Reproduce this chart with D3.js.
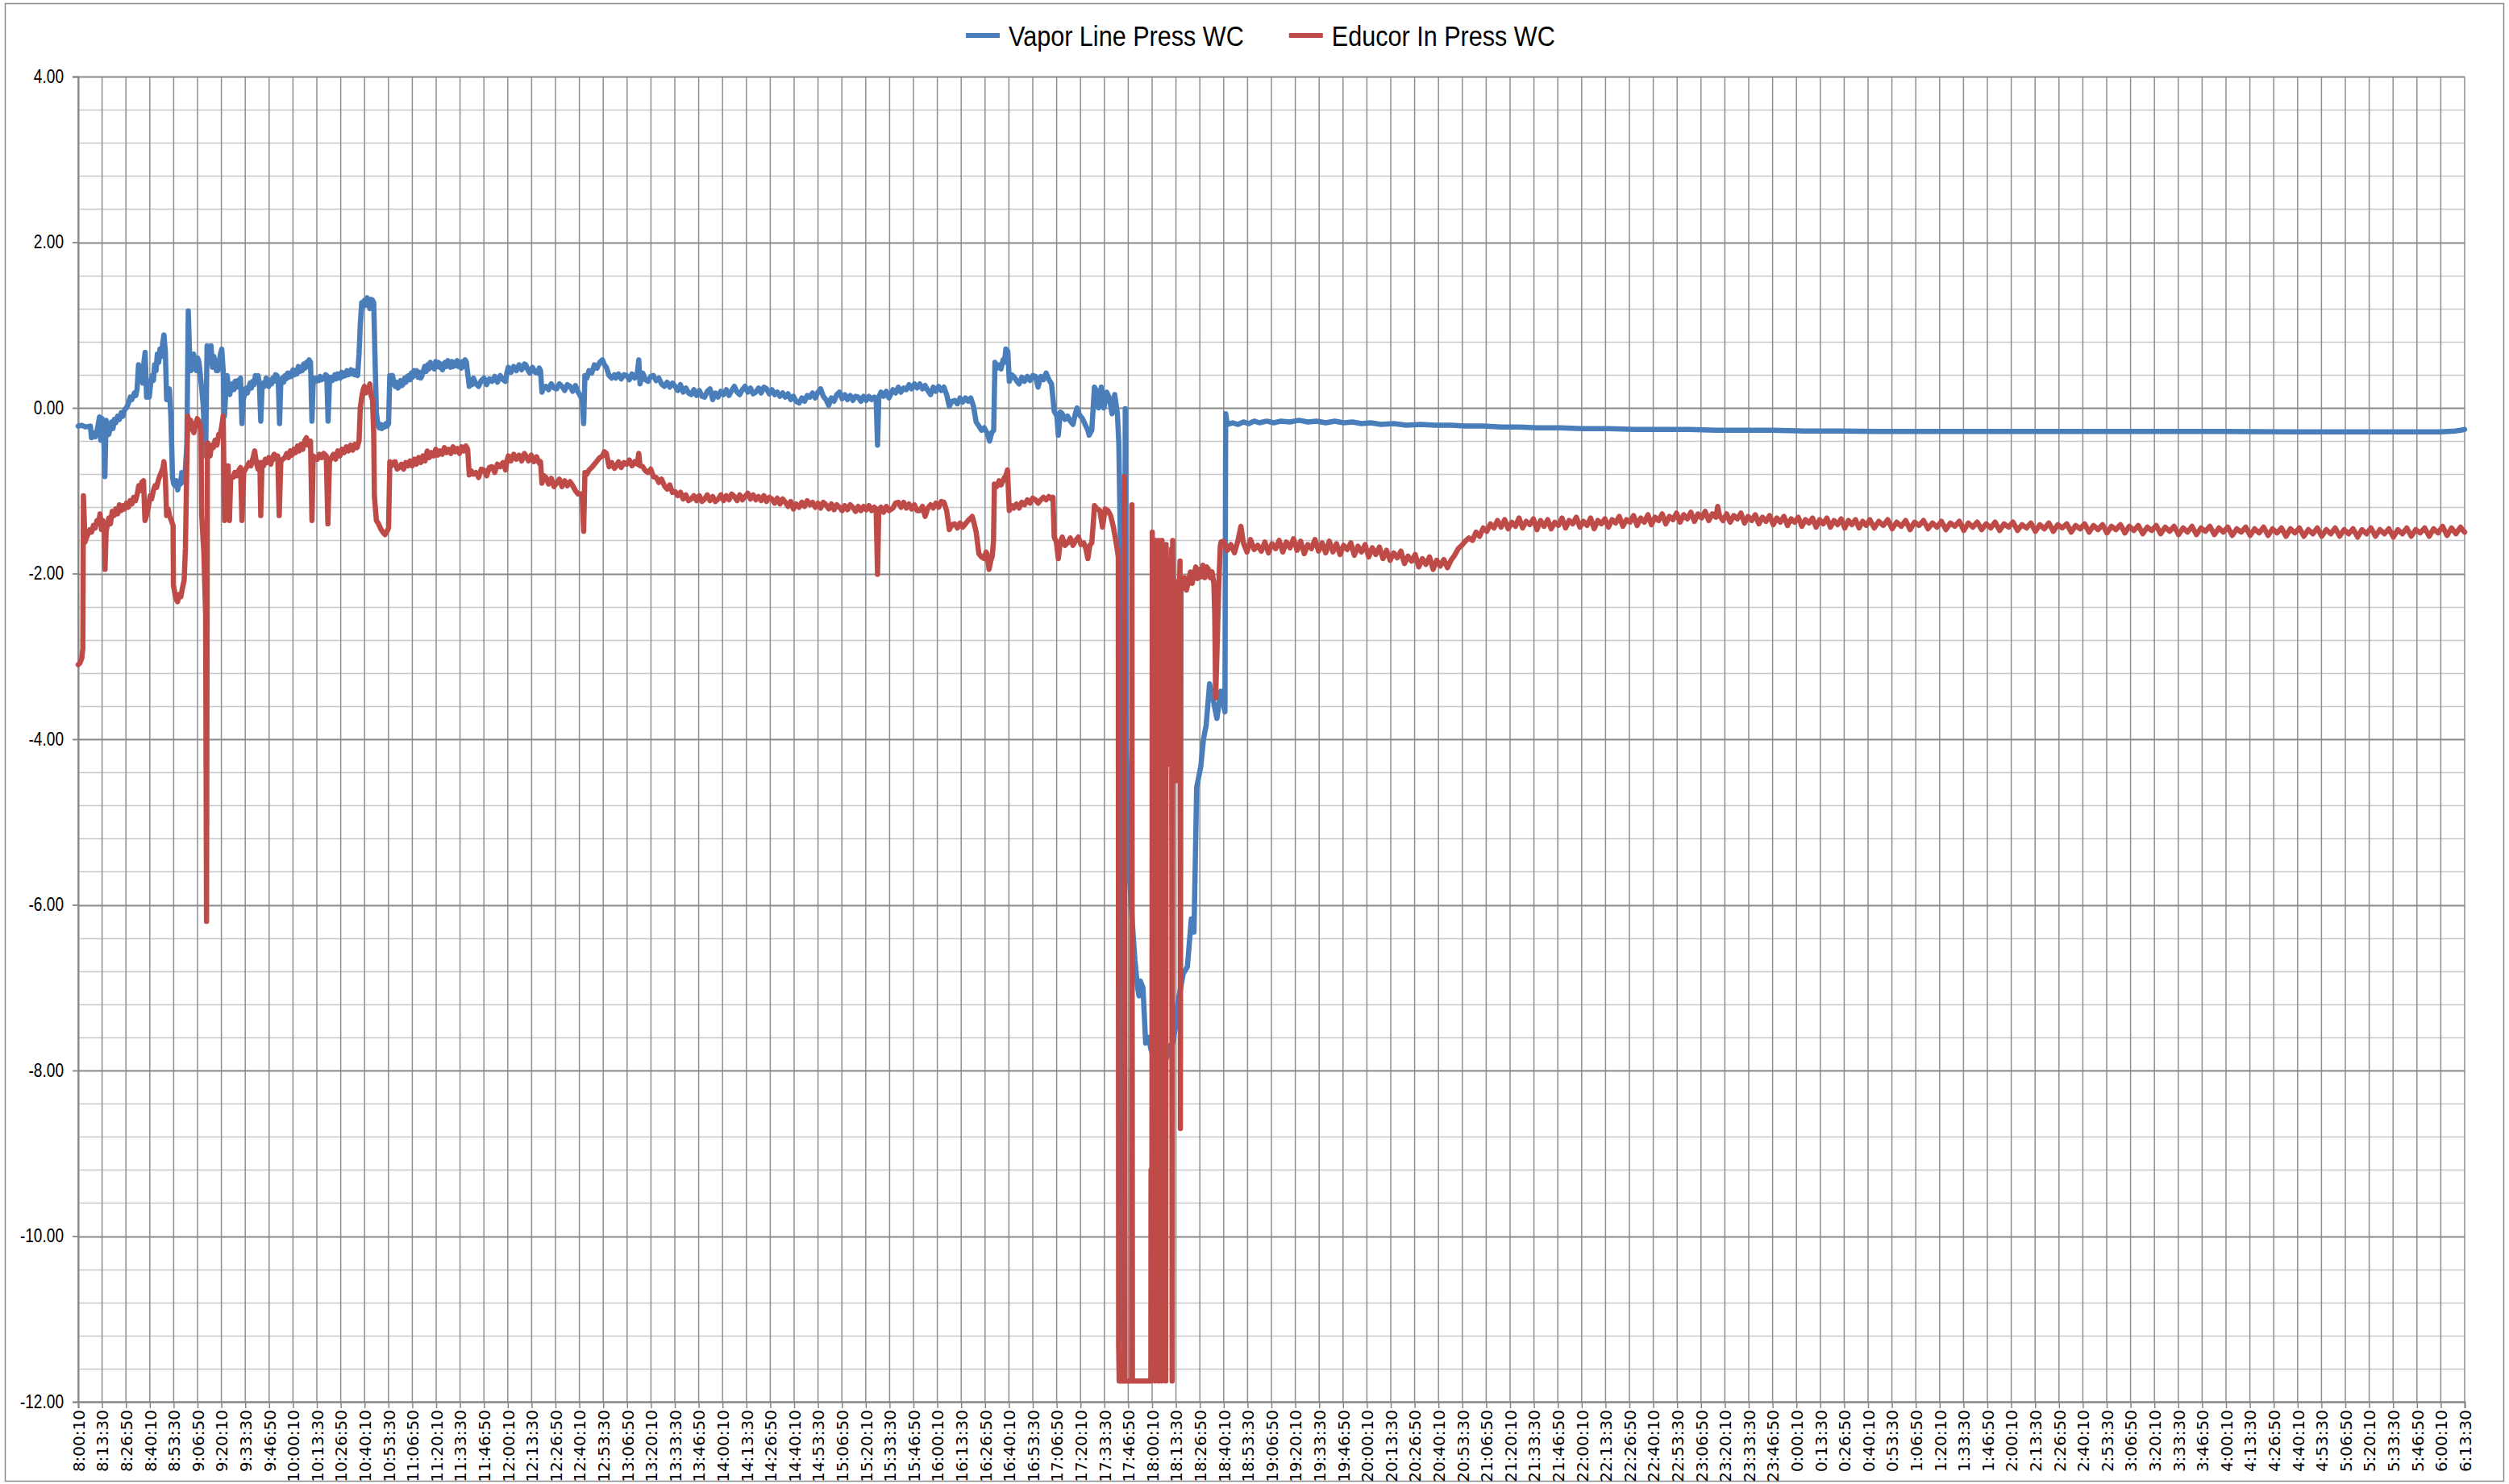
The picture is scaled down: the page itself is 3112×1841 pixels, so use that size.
<!DOCTYPE html>
<html>
<head>
<meta charset="utf-8">
<script src="https://cdn.jsdelivr.net/npm/d3@7/dist/d3.min.js"></script>
<style>
    html, body { margin: 0; padding: 0; background: #fff; }
    svg { display: block; }
    .axis text { fill: #000; }
</style>
</head>
<body>
<div id="chart"></div>
<script>
// category labels of the time axis, one every 13:20
var tickLabels = ["8:00:10", "8:13:30", "8:26:50", "8:40:10", "8:53:30", "9:06:50", "9:20:10", "9:33:30", "9:46:50",
    "10:00:10", "10:13:30", "10:26:50", "10:40:10", "10:53:30", "11:06:50", "11:20:10", "11:33:30", "11:46:50",
    "12:00:10", "12:13:30", "12:26:50", "12:40:10", "12:53:30", "13:06:50", "13:20:10", "13:33:30", "13:46:50",
    "14:00:10", "14:13:30", "14:26:50", "14:40:10", "14:53:30", "15:06:50", "15:20:10", "15:33:30", "15:46:50",
    "16:00:10", "16:13:30", "16:26:50", "16:40:10", "16:53:30", "17:06:50", "17:20:10", "17:33:30", "17:46:50",
    "18:00:10", "18:13:30", "18:26:50", "18:40:10", "18:53:30", "19:06:50", "19:20:10", "19:33:30", "19:46:50",
    "20:00:10", "20:13:30", "20:26:50", "20:40:10", "20:53:30", "21:06:50", "21:20:10", "21:33:30", "21:46:50",
    "22:00:10", "22:13:30", "22:26:50", "22:40:10", "22:53:30", "23:06:50", "23:20:10", "23:33:30", "23:46:50",
    "0:00:10", "0:13:30", "0:26:50", "0:40:10", "0:53:30", "1:06:50", "1:20:10", "1:33:30", "1:46:50",
    "2:00:10", "2:13:30", "2:26:50", "2:40:10", "2:53:30", "3:06:50", "3:20:10", "3:33:30", "3:46:50",
    "4:00:10", "4:13:30", "4:26:50", "4:40:10", "4:53:30", "5:06:50", "5:20:10", "5:33:30", "5:46:50",
    "6:00:10", "6:13:30"];
var tickStepMinutes = 40 / 3;   // 13:20 between labels

var seriesNames = ["Vapor Line Press WC", "Educor In Press WC"];

var yMajorTicks = [-12, -10, -8, -6, -4, -2, 0, 2, 4];
var yMinorStep = 0.4;

// [minutes after 8:00:10, pressure in WC]
var vaporLine = [
    [0,-0.22],[2,-0.21],[4,-0.23],[6.8,-0.22],[7.4,-0.36],[8.5,-0.30],[9.5,-0.35],[10.5,-0.28],[11.9,-0.11],[12.6,-0.39],
    [13.4,-0.13],[14.2,-0.25],[14.9,-0.83],[15.6,-0.15],[16.4,-0.28],[17.1,-0.32],[18.6,-0.17],[19.4,-0.25],[20.2,-0.14],[21,-0.18],
    [22,-0.10],[23,-0.14],[24,-0.06],[25,-0.10],[26,-0.02],[26.9,0.00],[28,0.05],[29.1,0.13],[30,0.10],[31.4,0.18],
    [32.2,0.15],[32.9,0.23],[33.7,0.52],[34.5,0.35],[35.2,0.39],[36,0.30],[36.7,0.55],[37.4,0.67],[38.2,0.13],[39,0.18],
    [39.7,0.13],[40.5,0.30],[41.2,0.39],[42,0.33],[42.7,0.52],[43.5,0.45],[44.2,0.65],[45,0.55],[45.7,0.71],[46.5,0.62],
    [47.2,0.78],[47.9,0.88],[48.7,0.68],[49.4,0.10],[50.2,0.18],[50.9,0.23],[51.7,-0.06],[52.7,-0.84],[53.4,-0.92],[54.1,-0.94],
    [54.9,-0.88],[55.6,-0.99],[56.4,-0.90],[57.1,-0.92],[57.9,-0.78],[58.6,-0.86],[59.4,-0.90],[60.7,-0.45],[61.5,1.17],[62.3,0.60],
    [63,0.45],[63.8,0.58],[64.5,0.65],[65.2,0.50],[66,0.45],[66.8,0.60],[67.5,0.55],[68.2,0.40],[69,0.23],[69.8,0.05],
    [70.5,-0.32],[71.2,-0.58],[72,0.75],[72.8,0.62],[73.5,0.55],[74.2,0.75],[75,0.49],[75.8,0.62],[76.5,0.55],[77.2,0.45],
    [78,0.45],[78.8,0.55],[79.5,0.65],[80.2,0.71],[81,0.45],[81.7,-0.10],[82.5,0.20],[83.2,0.39],[84,0.25],[84.7,0.16],
    [85.5,0.26],[86.2,0.29],[87,0.22],[87.7,0.32],[88.5,0.25],[89.2,0.33],[90,0.27],[90.7,0.36],[91.5,-0.19],[92.2,0.10],
    [93,0.16],[93.8,0.24],[94.5,0.18],[95.2,0.23],[96,0.30],[96.8,0.24],[97.5,0.32],[98.2,0.28],[99,0.39],[99.8,0.32],
    [100.5,0.39],[101.2,0.30],[102,-0.16],[102.7,0.23],[103.5,0.30],[104.2,0.26],[105,0.36],[105.8,0.30],[106.5,0.26],[107.2,0.33],
    [108,0.29],[108.7,0.36],[109.5,0.32],[110.2,0.40],[111,0.39],[111.8,0.30],[112.5,-0.19],[113.2,0.32],[114,0.36],[114.8,0.31],
    [115.5,0.39],[116.2,0.35],[117,0.42],[117.8,0.37],[118.5,0.42],[119.2,0.38],[120,0.46],[120.8,0.40],[121.5,0.45],[122.2,0.41],
    [123,0.50],[123.8,0.44],[124.5,0.49],[125.2,0.45],[126,0.53],[126.8,0.48],[127.5,0.55],[128.2,0.50],[129,0.58],[129.8,0.55],
    [130.6,-0.16],[131.3,0.32],[132,0.36],[132.8,0.32],[133.6,0.36],[134.4,0.33],[135.2,0.38],[136,0.34],[136.6,0.36],[137.4,0.35],
    [138.2,0.40],[138.9,0.39],[139.6,-0.16],[140.4,0.32],[141.2,0.37],[142,0.33],[142.6,0.36],[143.4,0.40],[144.2,0.35],[145,0.41],
    [145.6,0.39],[146.4,0.36],[147.2,0.43],[148,0.38],[148.6,0.42],[149.4,0.39],[150.2,0.45],[151,0.40],[151.6,0.42],[152.4,0.46],
    [153.2,0.41],[153.9,0.45],[154.6,0.40],[155.4,0.44],[156.1,0.39],[156.9,0.65],[157.6,1.00],[158.4,1.27],[159.1,1.22],[159.9,1.30],
    [160.6,1.24],[161.4,1.33],[162.1,1.28],[162.9,1.20],[163.6,1.31],[164.4,1.30],[165.1,1.27],[165.9,0.55],[166.6,-0.06],[167.4,-0.20],
    [168.1,-0.24],[168.9,-0.20],[169.6,-0.25],[170.4,-0.21],[171.1,-0.23],[171.9,-0.19],[172.6,-0.22],[173.4,-0.19],[174.1,0.39],[174.9,0.34],
    [175.6,0.39],[176.4,0.30],[177.1,0.26],[177.9,0.31],[178.6,0.24],[179.4,0.26],[180.1,0.33],[180.9,0.27],[181.6,0.29],[182.4,0.36],
    [183.1,0.31],[183.9,0.38],[184.6,0.39],[185.4,0.34],[186.1,0.42],[186.9,0.37],[187.6,0.45],[188.4,0.40],[189.1,0.45],[189.9,0.37],
    [190.6,0.43],[191.4,0.36],[192.1,0.39],[192.9,0.45],[193.6,0.50],[194.4,0.44],[195.2,0.52],[196,0.47],[196.7,0.55],[197.5,0.49],
    [198.2,0.52],[199,0.47],[199.7,0.56],[200.5,0.50],[201.2,0.55],[202,0.49],[202.7,0.53],[203.5,0.46],[204.2,0.49],[205,0.55],
    [205.7,0.50],[206.5,0.57],[207.2,0.55],[208,0.49],[208.7,0.56],[209.5,0.50],[210.2,0.55],[211,0.51],[211.7,0.57],[212.5,0.50],
    [213.2,0.52],[214,0.48],[214.7,0.56],[215.5,0.50],[216.2,0.58],[216.9,0.55],[217.7,0.40],[218.5,0.26],[219.2,0.33],[220,0.28],
    [220.8,0.36],[222.2,0.29],[223.7,0.26],[225.2,0.33],[226.7,0.36],[228.2,0.28],[229.7,0.35],[231.2,0.32],[232.7,0.38],[234.2,0.31],
    [235.8,0.39],[237.3,0.34],[238.8,0.32],[239.5,0.42],[240.3,0.49],[241.8,0.43],[243.3,0.50],[244.8,0.45],[246.3,0.52],[247.8,0.46],
    [249.3,0.53],[250.1,0.52],[251.2,0.46],[252.3,0.42],[253.8,0.49],[255.3,0.43],[256.8,0.42],[257.6,0.48],[258.3,0.45],[259.1,0.19],
    [260.2,0.25],[261.3,0.26],[262.8,0.22],[264.3,0.29],[265.8,0.24],[267.3,0.23],[268.8,0.29],[270.3,0.26],[271.8,0.21],[273.3,0.28],
    [274.8,0.26],[276.3,0.20],[277.8,0.27],[279.3,0.19],[280.9,0.13],[281.6,0.10],[282.4,-0.19],[283.1,0.39],[284.2,0.36],[285.4,0.45],
    [286.9,0.42],[288.4,0.52],[289.9,0.48],[291.4,0.55],[292.9,0.58],[294,0.52],[295.1,0.49],[296.6,0.39],[298.1,0.36],[299.6,0.40],
    [300.4,0.36],[301.9,0.41],[303.4,0.35],[304.9,0.40],[306.4,0.39],[307.9,0.34],[309.4,0.41],[310.9,0.36],[312.4,0.42],[313.2,0.58],
    [313.9,0.29],[315.4,0.42],[316.9,0.34],[318.4,0.32],[319.9,0.38],[321.4,0.39],[322.9,0.33],[324.4,0.36],[325.9,0.29],[327.5,0.26],
    [329,0.31],[330.5,0.25],[332,0.30],[333.5,0.26],[335,0.21],[336.5,0.28],[338,0.19],[339.5,0.24],[341,0.18],[342.5,0.16],
    [344,0.22],[345.5,0.15],[347,0.21],[348.5,0.14],[350,0.13],[351.5,0.20],[353,0.23],[354.5,0.10],[356,0.18],[357.5,0.13],
    [359,0.20],[360.6,0.16],[362.1,0.22],[363.6,0.15],[365.1,0.21],[366.6,0.26],[368.1,0.19],[369.6,0.16],[371.1,0.22],[372.6,0.26],
    [374.1,0.19],[375.6,0.24],[377.1,0.17],[378.6,0.19],[380.1,0.24],[381.6,0.18],[383.1,0.25],[384.6,0.23],[386.1,0.17],[387.6,0.22],
    [389.1,0.16],[390.6,0.19],[392.1,0.14],[393.6,0.18],[395.1,0.13],[396.6,0.17],[398.1,0.10],[399.6,0.14],[401.1,0.08],[402.8,0.06],
    [404.3,0.12],[405.8,0.08],[407.3,0.15],[408.8,0.13],[410.3,0.18],[411.8,0.12],[413.3,0.19],[414.8,0.23],[416.3,0.14],[417.8,0.10],
    [419.3,0.03],[420.8,0.12],[422.3,0.08],[423.8,0.16],[425.3,0.19],[426.8,0.11],[428.3,0.16],[429.8,0.10],[431.3,0.15],[432.8,0.09],
    [434.3,0.14],[435.8,0.13],[437.3,0.08],[438.8,0.14],[440.3,0.09],[441.8,0.14],[443.3,0.10],[444.8,0.13],[445.8,0.12],[446.6,-0.45],
    [447.3,0.13],[448.5,0.19],[450,0.14],[451.5,0.20],[453,0.12],[455.2,0.22],[456.7,0.18],[458.2,0.25],[459.7,0.19],[461.2,0.24],
    [462.7,0.22],[464.2,0.28],[465.7,0.23],[467.2,0.29],[468.7,0.24],[470.2,0.29],[471.7,0.23],[473.2,0.27],[474.7,0.21],[476.2,0.16],
    [477.7,0.25],[479.2,0.20],[480.7,0.26],[482.2,0.21],[483.7,0.25],[485.2,0.16],[486.7,0.02],[488.2,0.08],[489.7,0.09],[491.2,0.05],
    [492.7,0.12],[494.2,0.07],[495.7,0.12],[497.2,0.08],[498.7,0.12],[500.2,0.02],[501.7,-0.17],[503.2,-0.22],[504.7,-0.27],[506.2,-0.24],
    [507.7,-0.30],[509.2,-0.40],[510.4,-0.30],[511.5,-0.27],[512.2,0.55],[513.4,0.48],[514.5,0.52],[515.6,0.47],[516.7,0.58],[517.5,0.55],
    [518.3,0.71],[519.4,0.68],[520.2,0.32],[521.5,0.40],[522.7,0.38],[524.2,0.33],[525.7,0.29],[527.2,0.37],[528.7,0.32],[530.3,0.38],
    [531.8,0.33],[533.3,0.39],[534.8,0.38],[536.3,0.25],[537.8,0.38],[539.3,0.34],[540.8,0.42],[542.3,0.34],[543.8,0.29],[545.3,-0.04],
    [546.8,-0.10],[547.6,-0.33],[548.7,-0.05],[549.8,-0.07],[551.3,-0.14],[552.8,-0.10],[554.3,-0.16],[555.8,-0.20],[557,-0.08],[558.1,0.00],
    [559.6,-0.09],[561.1,-0.13],[562.6,-0.20],[564.1,-0.27],[564.8,-0.33],[566.3,-0.27],[567.8,0.25],[569.3,0.19],[570.1,0.00],[571.6,0.25],
    [573.1,0.00],[574.6,0.19],[576.1,0.12],[577.6,-0.07],[579.1,0.16],[580.6,-0.07],[581.4,-0.42],[582.2,-1.5],[582.8,-3.58],[583.3,-11.25],
    [583.8,-3.7],[584.6,-4.0],[585.0,-0.01],[585.5,-4.1],[585.9,-4.33],[587.4,-5.67],[588.9,-6.2],[590.4,-6.67],[591.9,-7.0],[592.7,-7.1],
    [593.4,-6.92],[594.9,-7.0],[596.4,-7.67],[598,-7.6],[599.4,-7.75],[601,-7.85],[602.4,-7.83],[604,-7.7],[605.4,-7.75],[607,-7.9],
    [608.4,-7.83],[610,-7.7],[611.4,-7.67],[612.9,-7.5],[614.4,-7.17],[616,-7.0],[617.4,-6.83],[619.7,-6.75],[621.9,-6.17],[623.4,-6.33],
    [624.9,-4.58],[627.2,-4.33],[628.7,-4.0],[630.2,-3.83],[632.1,-3.33],[633.9,-3.5],[636.2,-3.75],[638.4,-3.42],[640.7,-3.67],[641.1,-0.07],
    [642,-0.20],[645,-0.18],[648,-0.20],[651,-0.17],[654,-0.19],[657,-0.16],[660,-0.18],[664,-0.16],[668,-0.18],[672,-0.16],
    [677,-0.17],[682,-0.15],[687,-0.17],[692,-0.16],[697,-0.18],[702,-0.16],[707,-0.18],[712,-0.17],[717,-0.19],[722,-0.18],
    [728,-0.20],[735,-0.19],[742,-0.21],[750,-0.20],[758,-0.21],[767,-0.21],[775,-0.22],[785,-0.22],[795,-0.23],[805,-0.23],
    [815,-0.24],[828,-0.24],[840,-0.25],[855,-0.25],[870,-0.26],[885,-0.26],[900,-0.26],[915,-0.27],[930,-0.27],[947,-0.27],
    [965,-0.28],[985,-0.28],[1005,-0.285],[1030,-0.285],[1060,-0.285],[1100,-0.285],[1150,-0.285],[1200,-0.285],[1240,-0.29],[1270,-0.29],
    [1300,-0.29],[1320,-0.29],[1328,-0.28],[1331,-0.27],[1333.3,-0.26]
];

var educorIn = [
    [0,-3.10],[1,-3.08],[2,-3.02],[2.6,-2.9],[2.9,-1.06],[3.3,-1.30],[3.8,-1.62],[4.4,-1.58],[5.5,-1.52],[6.5,-1.47],
    [7.5,-1.50],[8.5,-1.42],[9.5,-1.45],[10.5,-1.36],[11.5,-1.38],[12.2,-1.28],[13,-1.47],[13.8,-1.36],[14.6,-1.50],[15,-1.95],
    [15.6,-1.49],[16.4,-1.40],[17.1,-1.33],[18,-1.40],[19,-1.25],[20,-1.30],[21,-1.22],[22,-1.28],[23,-1.17],[24,-1.24],
    [25,-1.18],[26,-1.22],[27,-1.15],[28,-1.20],[29,-1.12],[30,-1.16],[31,-1.08],[32,-1.12],[33,-1.04],[33.8,-0.94],
    [34.6,-1.00],[35.5,-0.90],[36.5,-0.88],[37.3,-1.36],[38.2,-1.30],[39.2,-1.20],[40.2,-1.06],[41,-1.10],[42,-1.00],[42.9,-0.94],
    [43.8,-0.96],[44.7,-0.88],[45.6,-0.82],[46.4,-0.78],[47.4,-0.72],[47.9,-0.65],[48.7,-0.85],[49.4,-1.30],[50.3,-1.22],[51,-1.30],
    [52,-1.36],[53,-1.42],[53.2,-2.14],[54.5,-2.30],[55.5,-2.34],[56.5,-2.25],[57.4,-2.28],[58.2,-2.18],[59.2,-2.08],[59.9,-1.70],
    [60.6,-0.80],[61.2,-0.10],[62,-0.18],[62.8,-0.15],[63.6,-0.25],[64.6,-0.30],[65.5,-0.20],[66.5,-0.13],[67.5,-0.16],[68.6,-0.28],
    [69,-1.30],[70.2,-1.75],[71.2,-2.5],[71.7,-6.2],[72.2,-0.42],[73,-0.52],[73.7,-0.58],[74.5,-0.45],[75.5,-0.48],[76.5,-0.39],
    [77.5,-0.45],[78.5,-0.32],[79.5,-0.30],[80.2,-0.22],[81.0,-0.10],[81.8,-1.36],[82.5,-0.70],[83.8,-0.70],[84.5,-1.36],[85.2,-0.85],
    [86.5,-0.84],[87.5,-0.78],[88.5,-0.82],[89.5,-0.76],[90.7,-0.72],[91.5,-1.36],[92.5,-0.78],[93.5,-0.74],[94.5,-0.70],[95.5,-0.66],
    [96.5,-0.70],[97.5,-0.62],[98.6,-0.52],[99.5,-0.66],[100.5,-0.74],[101.5,-0.66],[102,-1.30],[102.7,-0.66],[103.6,-0.70],[104.6,-0.62],
    [105.5,-0.66],[106.5,-0.60],[107.6,-0.68],[108.6,-0.60],[109.5,-0.56],[110.5,-0.62],[111.5,-0.58],[112.3,-1.30],[113.2,-0.65],[114.2,-0.62],
    [115.5,-0.60],[116.5,-0.55],[117.5,-0.60],[118.5,-0.52],[119.5,-0.57],[120.5,-0.50],[121.5,-0.54],[122.5,-0.46],[123.5,-0.52],[124.5,-0.44],
    [125.5,-0.50],[126.5,-0.40],[127.5,-0.36],[128.5,-0.45],[129.8,-0.40],[130.6,-1.36],[131.3,-0.58],[132.5,-0.60],[133.6,-0.62],[134.8,-0.56],
    [136,-0.60],[137.2,-0.55],[138.6,-0.58],[139.5,-1.40],[140.4,-0.65],[141.5,-0.60],[142.6,-0.56],[143.8,-0.62],[145,-0.52],[146.2,-0.58],
    [147.4,-0.50],[148.6,-0.54],[149.8,-0.47],[151,-0.52],[152.2,-0.45],[153.4,-0.51],[154.6,-0.44],[155.8,-0.48],[156.9,-0.40],[157.6,0.00],
    [158.4,0.13],[159.2,0.22],[159.9,0.26],[160.7,0.18],[161.4,0.24],[162.2,0.20],[162.9,0.29],[163.6,0.15],[164.4,0.10],[165.1,-0.30],
    [165.5,-1.07],[166.6,-1.36],[167.8,-1.40],[169,-1.46],[170.2,-1.50],[171.4,-1.53],[172.6,-1.49],[173.4,-1.45],[174.1,-0.65],[175,-0.70],
    [176,-0.66],[177.1,-0.65],[178.2,-0.74],[179.4,-0.72],[180.6,-0.68],[181.8,-0.74],[183,-0.66],[184.2,-0.70],[185.4,-0.64],[186.6,-0.70],
    [187.8,-0.62],[189,-0.68],[190.2,-0.60],[191.4,-0.66],[192.6,-0.58],[193.8,-0.64],[195,-0.52],[196.2,-0.60],[197.4,-0.54],[198.6,-0.58],
    [199.8,-0.50],[201,-0.57],[202.2,-0.52],[203.4,-0.56],[204.6,-0.48],[205.8,-0.54],[207,-0.50],[208.2,-0.55],[209.4,-0.47],[210.6,-0.53],
    [211.8,-0.49],[213,-0.55],[214.2,-0.47],[215.4,-0.52],[216.6,-0.46],[217.6,-0.50],[218.5,-0.81],[219.6,-0.76],[220.8,-0.80],[222.2,-0.78],
    [223.7,-0.84],[225.2,-0.74],[226.7,-0.75],[228.2,-0.82],[229.7,-0.72],[231.2,-0.71],[232.7,-0.78],[234.2,-0.68],[235.8,-0.71],[237.3,-0.66],
    [238.8,-0.75],[239.5,-0.64],[240.3,-0.58],[241.8,-0.64],[243.3,-0.56],[244.8,-0.62],[246.3,-0.57],[247.8,-0.64],[249.3,-0.55],[250.1,-0.58],
    [251.6,-0.64],[253.1,-0.57],[254.6,-0.65],[256.1,-0.59],[257.6,-0.67],[258.3,-0.65],[259.1,-0.91],[260.2,-0.82],[261.3,-0.84],[262.8,-0.92],
    [264.3,-0.85],[265.8,-0.95],[267.3,-0.91],[268.8,-0.86],[270.3,-0.95],[271.8,-0.88],[273.3,-0.94],[274.8,-0.89],[276.3,-0.94],[277.8,-1.00],
    [279.3,-1.04],[280.9,-1.04],[281.6,-1.08],[282.4,-1.49],[283.1,-0.78],[284.2,-0.80],[285.4,-0.75],[286.9,-0.72],[288.4,-0.68],[289.9,-0.64],
    [291.4,-0.60],[292.9,-0.58],[294,-0.53],[295.1,-0.55],[296.6,-0.71],[298.1,-0.66],[299.6,-0.73],[300.4,-0.71],[301.9,-0.65],[303.4,-0.72],
    [304.9,-0.66],[306.4,-0.68],[307.9,-0.63],[309.4,-0.70],[310.9,-0.65],[312.4,-0.68],[313.2,-0.55],[313.9,-0.70],[315.4,-0.71],[316.9,-0.76],
    [318.4,-0.78],[319.9,-0.74],[321.4,-0.83],[322.9,-0.84],[324.4,-0.90],[325.9,-0.86],[327.5,-0.94],[329,-0.98],[330.5,-0.93],[332,-1.02],
    [333.5,-1.01],[335,-1.06],[336.5,-1.02],[338,-1.10],[339.5,-1.05],[341,-1.12],[342.5,-1.10],[344,-1.06],[345.5,-1.12],[347,-1.06],
    [348.5,-1.13],[350,-1.10],[351.5,-1.05],[353,-1.12],[354.5,-1.07],[356,-1.13],[357.6,-1.10],[359.1,-1.05],[360.6,-1.12],[362.1,-1.06],
    [363.6,-1.11],[365.1,-1.04],[366.6,-1.07],[368.1,-1.12],[369.6,-1.05],[371.1,-1.11],[372.6,-1.07],[374.1,-1.03],[375.6,-1.10],[377.1,-1.05],
    [378.6,-1.11],[380.1,-1.07],[381.6,-1.12],[383.1,-1.06],[384.6,-1.13],[386.1,-1.08],[387.6,-1.10],[389.1,-1.15],[390.6,-1.09],[392.1,-1.16],
    [393.6,-1.10],[395.1,-1.14],[396.6,-1.19],[398.1,-1.13],[399.6,-1.22],[401.1,-1.16],[402.8,-1.20],[404.3,-1.14],[405.8,-1.19],[407.3,-1.12],
    [408.8,-1.17],[410.3,-1.14],[411.8,-1.20],[413.3,-1.15],[414.8,-1.21],[416.3,-1.14],[417.8,-1.17],[419.3,-1.22],[420.8,-1.16],[422.3,-1.23],
    [423.8,-1.17],[425.3,-1.20],[426.8,-1.24],[428.3,-1.18],[429.8,-1.23],[431.3,-1.17],[432.8,-1.20],[434.3,-1.25],[435.8,-1.19],[437.3,-1.24],
    [438.8,-1.19],[440.3,-1.23],[441.8,-1.18],[443.3,-1.24],[444.8,-1.20],[445.8,-1.22],[446.6,-2.01],[447.3,-1.23],[448.5,-1.20],[450,-1.26],
    [451.5,-1.19],[453,-1.24],[455.2,-1.21],[456.7,-1.15],[458.2,-1.14],[459.7,-1.20],[461.2,-1.14],[462.7,-1.21],[464.2,-1.16],[465.7,-1.22],
    [467.2,-1.17],[468.7,-1.24],[470.2,-1.24],[471.7,-1.19],[473.2,-1.31],[474.7,-1.21],[476.2,-1.17],[477.7,-1.21],[479.2,-1.15],[480.7,-1.20],
    [482.2,-1.13],[483.7,-1.14],[485.2,-1.24],[486.7,-1.47],[488.2,-1.41],[489.7,-1.40],[491.2,-1.45],[492.7,-1.39],[494.2,-1.44],[495.7,-1.40],
    [497.2,-1.36],[498.7,-1.33],[499.5,-1.31],[500.6,-1.40],[501.7,-1.50],[503.2,-1.76],[504.7,-1.80],[506.2,-1.82],[507.2,-1.74],[507.7,-1.76],
    [508.9,-1.95],[509.8,-1.85],[510.7,-1.79],[511.4,-1.6],[511.9,-0.92],[513.2,-0.95],[514.5,-0.88],[515.6,-0.93],[516.7,-0.88],[517.5,-0.84],
    [518.3,-0.82],[519.2,-0.75],[520.2,-1.24],[521.5,-1.18],[522.7,-1.21],[524.2,-1.16],[525.7,-1.21],[527.2,-1.14],[528.7,-1.17],[530.3,-1.11],
    [531.8,-1.15],[533.3,-1.09],[534.8,-1.11],[536.3,-1.15],[537.8,-1.11],[539.3,-1.08],[540.8,-1.11],[542.3,-1.07],[543.8,-1.10],[544.6,-1.08],
    [545.3,-1.56],[546.5,-1.62],[547.6,-1.82],[548.7,-1.62],[549.8,-1.56],[551.3,-1.66],[552.8,-1.63],[554.3,-1.57],[555.8,-1.66],[557.3,-1.60],
    [558.8,-1.56],[560.3,-1.65],[561.8,-1.63],[563,-1.70],[564.1,-1.82],[565.2,-1.66],[566.3,-1.63],[567.1,-1.40],[567.8,-1.18],[569.3,-1.22],
    [570.8,-1.24],[572.3,-1.44],[573.8,-1.22],[575.3,-1.24],[576.8,-1.30],[578.4,-1.44],[579.9,-1.63],[580.6,-1.72],[581.1,-1.8],[581.3,-11.3],
    [581.6,-11.75],[584.3,-11.75],[584.5,-0.83],[584.8,-11.75],[588.5,-11.75],[588.7,-1.17],[589.0,-11.75],[599.3,-11.75],[599.4,-9.2],[599.9,-9.2],
    [600.1,-1.5],[600.4,-2.4],[600.8,-1.7],[601.3,-3.2],[601.7,-11.75],[601.9,-1.6],[602.4,-2.6],[602.9,-1.8],[603.4,-4.0],[603.6,-11.75],
    [603.8,-1.6],[604.3,-3.0],[604.8,-1.7],[605.3,-11.75],[605.5,-1.6],[606.0,-3.6],[606.6,-2.0],[607.2,-4.2],[607.6,-11.75],[607.8,-1.65],
    [608.5,-2.6],[609.1,-4.3],[609.7,-1.9],[610.3,-3.8],[610.9,-1.7],[611.2,-11.75],[611.5,-1.6],[612.1,-4.4],[612.7,-2.2],[613.3,-4.5],
    [613.9,-2.1],[614.5,-4.5],[615.1,-2.3],[615.6,-1.85],[615.8,-8.7],[616.1,-2.2],[617.2,-2.17],[618.2,-2.05],[619.2,-2.20],[620.4,-2.08],
    [621.4,-1.98],[622.4,-2.12],[623.4,-2.0],[624.4,-1.92],[625.4,-2.06],[626.4,-1.95],[627.4,-2.04],[628.4,-1.90],[629.5,-2.05],[630.5,-1.92],
    [631.5,-1.95],[632.5,-2.05],[633.5,-1.98],[634.5,-2.12],[635.0,-2.5],[635.5,-3.5],[636.3,-2.9],[637.3,-2.1],[638.1,-1.67],[638.5,-1.62],
    [640,-1.61],[642,-1.72],[644,-1.65],[646,-1.75],[648,-1.60],[649.6,-1.43],[651,-1.63],[653,-1.74],[655,-1.59],[657,-1.71],
    [659,-1.66],[661,-1.73],[663,-1.62],[665,-1.75],[667,-1.64],[669,-1.70],[671,-1.60],[673,-1.74],[675,-1.62],[677,-1.69],
    [679,-1.58],[681,-1.72],[683,-1.61],[685,-1.76],[687,-1.65],[689,-1.70],[691,-1.59],[693,-1.73],[695,-1.63],[697,-1.75],
    [699,-1.61],[701,-1.74],[703,-1.64],[705,-1.77],[707,-1.66],[709,-1.71],[711,-1.63],[713,-1.78],[715,-1.67],[717,-1.74],
    [719,-1.65],[721,-1.80],[723,-1.69],[725,-1.77],[727,-1.68],[729,-1.82],[731,-1.72],[733,-1.84],[735,-1.75],[737,-1.81],
    [739,-1.73],[741,-1.88],[743,-1.79],[745,-1.85],[747,-1.77],[749,-1.92],[751,-1.82],[753,-1.89],[755,-1.80],[757,-1.95],
    [759,-1.84],[761,-1.91],[763,-1.83],[765,-1.93],[767,-1.84],[769,-1.78],[771,-1.70],[773,-1.66],[775,-1.61],[777,-1.57],
    [779,-1.60],[781,-1.50],[783,-1.55],[785,-1.45],[787,-1.49],[789,-1.40],[791,-1.45],[793,-1.36],[795,-1.44],[797,-1.35],
    [799,-1.46],[801,-1.38],[803,-1.43],[805,-1.33],[807,-1.45],[809,-1.37],[811,-1.41],[813,-1.34],[815,-1.47],[817,-1.36],
    [819,-1.43],[821,-1.35],[823,-1.46],[825,-1.38],[827,-1.42],[829,-1.33],[831,-1.45],[833,-1.36],[835,-1.40],[837,-1.32],
    [839,-1.44],[841,-1.37],[843,-1.42],[845,-1.33],[847,-1.46],[849,-1.36],[851,-1.40],[853,-1.34],[855,-1.44],[857,-1.35],
    [859,-1.39],[861,-1.31],[863,-1.43],[865,-1.35],[867,-1.38],[869,-1.30],[871,-1.42],[873,-1.33],[875,-1.38],[877,-1.29],
    [879,-1.41],[881,-1.32],[883,-1.36],[885,-1.28],[887,-1.40],[889,-1.31],[891,-1.35],[893,-1.27],[895,-1.38],[897,-1.29],
    [899,-1.34],[901,-1.26],[903,-1.37],[905,-1.28],[907,-1.33],[909,-1.25],[911,-1.36],[913,-1.28],[915,-1.32],[916,-1.19],
    [917,-1.30],[919,-1.36],[921,-1.28],[923,-1.38],[925,-1.30],[927,-1.34],[929,-1.27],[931,-1.39],[933,-1.31],[935,-1.36],
    [937,-1.29],[939,-1.40],[941,-1.32],[943,-1.37],[945,-1.30],[947,-1.41],[949,-1.33],[951,-1.38],[953,-1.31],[955,-1.42],
    [957,-1.34],[959,-1.38],[961,-1.32],[963,-1.43],[965,-1.35],[967,-1.39],[969,-1.33],[971,-1.44],[973,-1.35],[975,-1.40],
    [977,-1.33],[979,-1.44],[981,-1.36],[983,-1.41],[985,-1.34],[987,-1.45],[989,-1.36],[991,-1.41],[993,-1.35],[995,-1.45],
    [997,-1.37],[999,-1.42],[1001,-1.35],[1003.5,-1.45],[1006,-1.37],[1008.5,-1.42],[1011,-1.35],[1013.5,-1.46],[1016,-1.38],[1018.5,-1.43],
    [1021,-1.36],[1023.5,-1.47],[1026,-1.38],[1028.5,-1.42],[1031,-1.36],[1033.5,-1.46],[1036,-1.39],[1038.5,-1.44],[1041,-1.37],[1043.5,-1.47],
    [1046,-1.39],[1048.5,-1.43],[1051,-1.37],[1053.5,-1.48],[1056,-1.39],[1058.5,-1.44],[1061,-1.38],[1063.5,-1.47],[1066,-1.40],[1068.5,-1.45],
    [1071,-1.38],[1073.5,-1.48],[1076,-1.40],[1078.5,-1.44],[1081,-1.38],[1083.5,-1.48],[1086,-1.41],[1088.5,-1.45],[1091,-1.39],[1093.5,-1.49],
    [1096,-1.41],[1098.5,-1.46],[1101,-1.39],[1103.5,-1.49],[1106,-1.41],[1108.5,-1.45],[1111,-1.40],[1113.5,-1.50],[1116,-1.42],[1118.5,-1.46],
    [1121,-1.40],[1123.5,-1.50],[1126,-1.42],[1128.5,-1.47],[1131,-1.41],[1133.5,-1.51],[1136,-1.43],[1138.5,-1.47],[1141,-1.41],[1143.5,-1.51],
    [1146,-1.43],[1148.5,-1.48],[1151,-1.42],[1153.5,-1.52],[1156,-1.44],[1158.5,-1.48],[1161,-1.42],[1163.5,-1.52],[1166,-1.44],[1168.5,-1.49],
    [1171,-1.43],[1173.5,-1.53],[1176,-1.45],[1178.5,-1.50],[1181,-1.43],[1183.5,-1.53],[1186,-1.45],[1188.5,-1.49],[1191,-1.43],[1193.5,-1.53],
    [1196,-1.45],[1198.5,-1.50],[1201,-1.44],[1203.5,-1.54],[1206,-1.46],[1208.5,-1.50],[1211,-1.44],[1213.5,-1.54],[1216,-1.46],[1218.5,-1.51],
    [1221,-1.44],[1223.5,-1.54],[1226,-1.46],[1228.5,-1.51],[1231,-1.45],[1233.5,-1.55],[1236,-1.46],[1238.5,-1.51],[1241,-1.45],[1243.5,-1.55],
    [1246,-1.47],[1248.5,-1.52],[1251,-1.45],[1253.5,-1.55],[1256,-1.47],[1258.5,-1.52],[1261,-1.45],[1263.5,-1.55],[1266,-1.47],[1268.5,-1.52],
    [1271,-1.46],[1273.5,-1.56],[1276,-1.47],[1278.5,-1.52],[1281,-1.45],[1283.5,-1.55],[1286,-1.47],[1288.5,-1.52],[1291,-1.46],[1293.5,-1.56],
    [1296,-1.47],[1298.5,-1.52],[1301,-1.45],[1303.5,-1.55],[1306,-1.47],[1308.5,-1.51],[1311,-1.45],[1313.5,-1.55],[1316,-1.46],[1318.5,-1.51],
    [1321,-1.43],[1323.5,-1.54],[1326,-1.45],[1328.5,-1.52],[1331,-1.44],[1333.3,-1.50]
];

var seriesColors = ["#4a7ebb", "#be4b48"];

var width = 3112, height = 1841;
var margin = { top: 95, right: 55, bottom: 102, left: 97 };
var plotW = width - margin.left - margin.right;
var plotH = height - margin.top - margin.bottom;
var narrowFont = "'Liberation Sans', Arial, sans-serif";

var svg = d3.select("#chart").append("svg")
    .attr("width", width)
    .attr("height", height);

// outer chart border
svg.append("rect")
    .attr("x", 6.5).attr("y", 4.5)
    .attr("width", width - 13).attr("height", height - 8)
    .attr("fill", "#fff")
    .attr("stroke", "#898989")
    .attr("stroke-width", 1.5);

var g = svg.append("g").attr("transform", "translate(" + margin.left + "," + margin.top + ")");

var tickValues = tickLabels.map(function (d, i) { return i * tickStepMinutes; });
var x = d3.scaleLinear().domain([0, tickValues[tickValues.length - 1]]).range([0, plotW]);
var y = d3.scaleLinear().domain([-12, 4]).range([plotH, 0]);

// minor horizontal grid
var minorVals = d3.range(-12, 4.0001, yMinorStep).filter(function (v) {
    return Math.abs(v / 2 - Math.round(v / 2)) > 1e-6;
});
g.append("g").selectAll("line").data(minorVals).enter().append("line")
    .attr("x1", 0).attr("x2", plotW)
    .attr("y1", function (d) { return Math.round(y(d)) + 0.5; })
    .attr("y2", function (d) { return Math.round(y(d)) + 0.5; })
    .attr("stroke", "#c8c8c8").attr("stroke-width", 1.5);

// vertical grid at each category label
g.append("g").selectAll("line").data(tickValues).enter().append("line")
    .attr("x1", function (d) { return x(d); }).attr("x2", function (d) { return x(d); })
    .attr("y1", 0).attr("y2", plotH)
    .attr("stroke", "#8e8e8e").attr("stroke-width", 1.5);

// major horizontal grid
g.append("g").selectAll("line").data(yMajorTicks).enter().append("line")
    .attr("x1", 0).attr("x2", plotW)
    .attr("y1", function (d) { return Math.round(y(d)) + 0.5; })
    .attr("y2", function (d) { return Math.round(y(d)) + 0.5; })
    .attr("stroke", "#8a8a8a").attr("stroke-width", 1.8);

// y axis
var yAxis = d3.axisLeft(y).tickValues(yMajorTicks).tickSize(7).tickPadding(11)
    .tickFormat(function (d) { return d.toFixed(2); });
var yG = g.append("g").attr("class", "axis").call(yAxis);
yG.select(".domain").attr("stroke", "#868686").attr("stroke-width", 2);
yG.selectAll(".tick line").attr("stroke", "#868686").attr("stroke-width", 1.8);
// Calibri-like narrow look: squeeze the glyphs horizontally around the anchor
yG.selectAll("text")
    .attr("font-family", narrowFont)
    .attr("font-size", 23)
    .each(function () {
        var t = d3.select(this);
        var tx = +t.attr("x");
        t.attr("x", 0).attr("transform", "translate(" + tx + ",0) scale(0.83,1)");
    });

// x axis
var xAxis = d3.axisBottom(x).tickValues(tickValues).tickSize(8)
    .tickFormat(function (d, i) { return tickLabels[i]; });
var xG = g.append("g").attr("class", "axis")
    .attr("transform", "translate(0," + plotH + ")")
    .call(xAxis);
xG.select(".domain").attr("stroke", "#868686").attr("stroke-width", 2);
xG.selectAll(".tick line").attr("stroke", "#868686").attr("stroke-width", 1.5);
xG.selectAll("text")
    .attr("font-family", "'DejaVu Sans', sans-serif")
    .attr("font-size", 20)
    .attr("transform", "rotate(-90)")
    .attr("text-anchor", "end")
    .attr("x", -10)
    .attr("y", 0)
    .attr("dy", "0.36em");

// series lines, vapor first so the educor line sits on top
var line = d3.line()
    .x(function (d) { return x(d[0]); })
    .y(function (d) { return y(d[1]); });

[vaporLine, educorIn].forEach(function (series, i) {
    g.append("path")
        .datum(series)
        .attr("fill", "none")
        .attr("stroke", seriesColors[i])
        .attr("stroke-width", 6.5)
        .attr("stroke-linejoin", "round")
        .attr("stroke-linecap", "round")
        .attr("d", line);
});

// legend, centred above the plot
var legend = svg.append("g").attr("class", "legend");
var items = legend.selectAll("g").data(seriesNames).enter().append("g");
items.append("line")
    .attr("x1", 0).attr("x2", 42).attr("y1", 0).attr("y2", 0)
    .attr("stroke", function (d, i) { return seriesColors[i]; })
    .attr("stroke-width", 6);
items.append("text")
    .attr("x", 0).attr("y", 0).attr("dy", "0.35em")
    .attr("transform", "translate(53,0) scale(0.85,1)")
    .attr("font-family", narrowFont)
    .attr("font-size", 36)
    .attr("fill", "#000")
    .text(function (d) { return d; });

var offset = 0;
items.each(function () {
    var w = this.getBBox().width;
    d3.select(this).attr("transform", "translate(" + offset + ",0)");
    offset += w + 56;
});
var legendW = offset - 56;
legend.attr("transform", "translate(" + Math.round(width / 2 + 7 - legendW / 2) + ",44)");
</script>
</body>
</html>
